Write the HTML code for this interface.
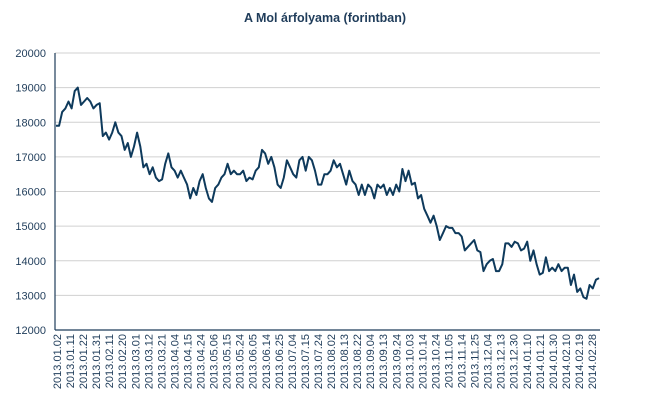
<!DOCTYPE html>
<html><head><meta charset="utf-8"><style>
html,body{margin:0;padding:0;background:#fff;}
svg{display:block;font-family:"Liberation Sans",sans-serif;}
</style></head><body>
<svg id="chart" width="645" height="403">
<text x="325" y="22" text-anchor="middle" font-size="12.5" font-weight="bold" fill="#1f3c5a">A Mol árfolyama (forintban)</text>
<g id="grid"></g><g id="yticks"></g><g id="xticks"></g>
<path id="line" fill="none" stroke="#0e3a5c" stroke-width="2" stroke-linejoin="round"></path>
<line x1="55" y1="53" x2="55" y2="330" stroke="#1f3c5a" stroke-width="1.2"></line>
<line x1="55" y1="330" x2="600" y2="330" stroke="#1f3c5a" stroke-width="1.2"></line>
</svg>
<script>
const prices=[17900,17900,18300,18400,18600,18400,18900,19000,18500,18600,18700,18600,18400,18500,18550,17600,17700,17500,17700,18000,17700,17600,17200,17400,17000,17300,17700,17300,16700,16800,16500,16700,16400,16300,16350,16800,17100,16700,16600,16400,16600,16400,16200,15800,16100,15900,16300,16500,16100,15800,15700,16100,16200,16400,16500,16800,16500,16600,16500,16500,16600,16300,16400,16350,16600,16700,17200,17100,16800,17000,16700,16200,16100,16400,16900,16700,16500,16400,16900,17000,16600,17000,16900,16600,16200,16200,16500,16500,16600,16900,16700,16800,16500,16200,16600,16300,16200,15900,16200,15900,16200,16100,15800,16200,16100,16200,15900,16100,15900,16200,16000,16650,16300,16600,16200,16250,15800,15900,15500,15300,15100,15300,15000,14600,14800,15000,14950,14950,14800,14800,14700,14300,14400,14500,14600,14300,14250,13700,13900,14000,14050,13700,13700,13900,14500,14500,14400,14550,14500,14300,14350,14550,14000,14300,13900,13600,13650,14100,13700,13800,13700,13900,13700,13800,13800,13300,13600,13100,13200,12950,12900,13300,13200,13450,13500];
const yTicks=[12000,13000,14000,15000,16000,17000,18000,19000,20000];
const dateLabels=["2013.01.02","2013.01.11","2013.01.22","2013.01.31","2013.02.11","2013.02.20","2013.03.01","2013.03.12","2013.03.21","2013.04.04","2013.04.15","2013.04.24","2013.05.06","2013.05.15","2013.05.24","2013.06.05","2013.06.14","2013.06.25","2013.07.04","2013.07.15","2013.07.24","2013.08.02","2013.08.13","2013.08.22","2013.09.04","2013.09.13","2013.09.24","2013.10.03","2013.10.14","2013.10.24","2013.11.05","2013.11.14","2013.11.25","2013.12.04","2013.12.13","2013.12.30","2014.01.10","2014.01.21","2014.01.30","2014.02.10","2014.02.19","2014.02.28"];
const NS="http://www.w3.org/2000/svg";
const y=v=>330-(v-12000)/8000*277;
const x=i=>56+i*(599-56)/(prices.length-1);
const lx=i=>57+i*(592-57)/(dateLabels.length-1);
const grid=document.getElementById('grid'),yt=document.getElementById('yticks'),xt=document.getElementById('xticks');
yTicks.forEach(v=>{
 if(v>12000){const l=document.createElementNS(NS,'line');
 
 
 l.setAttribute('x1',55);l.setAttribute('x2',600);l.setAttribute('y1',y(v));l.setAttribute('y2',y(v));
 l.setAttribute('stroke','#d0d0d0');l.setAttribute('stroke-width','1');grid.appendChild(l);}
 const t=document.createElementNS(NS,'text');
 
 
 t.setAttribute('x',46);t.setAttribute('y',y(v)+4);t.setAttribute('text-anchor','end');
 t.setAttribute('font-size','11');t.setAttribute('fill','#1f3c5a');t.textContent=v;yt.appendChild(t);
});
dateLabels.forEach((d,i)=>{
 const t=document.createElementNS(NS,'text');
 
 
 const cx=lx(i)+4;
 t.setAttribute('x',cx);t.setAttribute('y',334);t.setAttribute('text-anchor','end');
 t.setAttribute('transform','rotate(-90 '+cx+' 334)');
 t.setAttribute('font-size','11');t.setAttribute('fill','#1f3c5a');t.textContent=d;xt.appendChild(t);
});
document.getElementById('line').setAttribute('d',prices.map((v,i)=>(i?'L':'M')+x(i).toFixed(1)+' '+y(v).toFixed(1)).join(''));
</script>
</body></html>
